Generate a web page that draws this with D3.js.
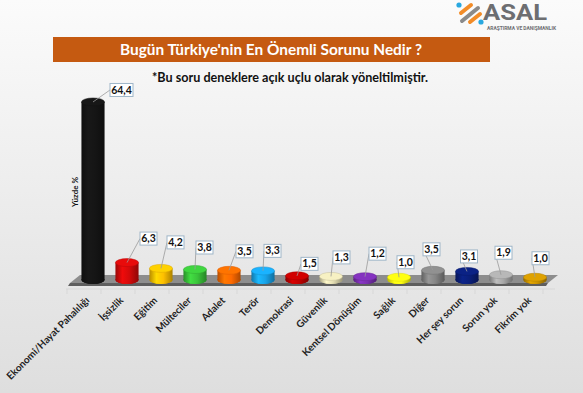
<!DOCTYPE html>
<html><head><meta charset="utf-8">
<script src="https://cdn.jsdelivr.net/npm/d3@7"></script>
<style>html,body{margin:0;padding:0;overflow:hidden;}svg{display:block;}</style>
</head><body>
<svg id="c" width="583" height="393"></svg>
<script>
const categories = ["Ekonomi/Hayat Pahalılığı","İşsizlik","Eğitim","Mülteciler","Adalet","Terör","Demokrasi","Güvenlik","Kentsel Dönüşüm","Sağlık","Diğer","Her şey sorun","Sorun yok","Fikrim yok"];
const values = [64.4, 6.3, 4.2, 3.8, 3.5, 3.3, 1.5, 1.3, 1.2, 1.0, 3.5, 3.1, 1.9, 1.0];
const valueLabels = ["64,4","6,3","4,2","3,8","3,5","3,3","1,5","1,3","1,2","1,0","3,5","3,1","1,9","1,0"];
const title = "Bugün Türkiye'nin En Önemli Sorunu Nedir ?";
const subtitle = "*Bu soru deneklere açık uçlu olarak yöneltilmiştir.";
const yTitle = "Yüzde %";

// styles / layout (not data)
const colors = ["#151515","#d40a0a","#ffc000","#3ac43a","#ff6a00","#18a4ea","#c00000","#e2dcb2","#7a2fb0","#ffff10","#858585","#0a1f7a","#a8a8a8","#cc9400"];
const labelDx = [28.5,21.5,14.5,9.5,15.5,9.5,12.5,10.5,12.5,6.5,-1.5,2,2.5,5.5];
const labelDy = [12,24,26,22,19,20,12,19,23,15,21,15,22,19];

const svg = d3.select("#c");
const defs = svg.append("defs");
const bg = defs.append("linearGradient").attr("id","bg").attr("x1",0).attr("y1",0).attr("x2",0).attr("y2",1);
bg.append("stop").attr("offset","0%").attr("stop-color","#fbfbfb");
bg.append("stop").attr("offset","100%").attr("stop-color","#dedede");
svg.append("rect").attr("width",583).attr("height",393).attr("fill","url(#bg)");

// logo
const logo = svg.append("g");
logo.append("line").attr("x1",461).attr("y1",13).attr("x2",471).attr("y2",5).attr("stroke","#f28c28").attr("stroke-width",4).attr("stroke-linecap","round");
logo.append("line").attr("x1",462).attr("y1",21).attr("x2",478).attr("y2",8).attr("stroke","#8a8a8a").attr("stroke-width",4).attr("stroke-linecap","round");
logo.append("line").attr("x1",470).attr("y1",22).attr("x2",480).attr("y2",14).attr("stroke","#f28c28").attr("stroke-width",4).attr("stroke-linecap","round");
logo.append("circle").attr("cx",459).attr("cy",5).attr("r",2.6).attr("fill","#29a8e0");
logo.append("circle").attr("cx",481).attr("cy",22).attr("r",2.6).attr("fill","#29a8e0");
logo.append("text").attr("x",483).attr("y",20).attr("font-family","Roboto, Arial, sans-serif").attr("font-weight","bold").attr("font-size",22).attr("fill","#6d6e71").attr("textLength",64).attr("lengthAdjust","spacingAndGlyphs").text("ASAL");
logo.append("text").attr("x",487).attr("y",30).attr("font-family","Roboto, Arial, sans-serif").attr("font-weight","bold").attr("font-size",4.5).attr("fill","#6d6e71").attr("textLength",69).attr("lengthAdjust","spacingAndGlyphs").text("ARAŞTIRMA VE DANIŞMANLIK");

// title bar
svg.append("rect").attr("x",53).attr("y",37).attr("width",437).attr("height",25).attr("fill","#c55a11");
svg.append("text").attr("x",271).attr("y",55).attr("text-anchor","middle").attr("font-family","Lato, 'Open Sans', sans-serif").attr("font-weight","bold").attr("font-size",15).attr("fill","#ffffff").attr("textLength",302).attr("lengthAdjust","spacingAndGlyphs").text(title);
svg.append("text").attr("x",290).attr("y",82).attr("text-anchor","middle").attr("font-family","Lato, 'Open Sans', sans-serif").attr("font-weight","bold").attr("font-size",12.5).attr("fill","#111").attr("textLength",276).attr("lengthAdjust","spacingAndGlyphs").text(subtitle);

// scales
const x = d3.scaleBand().domain(categories).range([76,552]).paddingInner(0.32).paddingOuter(0.16);
const y = d3.scaleLinear().domain([0,70]).range([280,86.5]);
const cx = d => x(d) + x.bandwidth()/2;
const rx = x.bandwidth()/2, ry = 4;

// axis baseline & ticks
const axisG = svg.append("g");
axisG.append("line").attr("x1",66).attr("x2",555).attr("y1",289).attr("y2",289).attr("stroke","#d4d4d4").attr("stroke-width",0.8);
axisG.selectAll("line.t").data(categories.concat(["_end"])).enter().append("line")
  .attr("x1",(d,i)=> 93 - 26 + i*x.step()).attr("x2",(d,i)=> 93 - 26 + i*x.step())
  .attr("y1",289).attr("y2",294).attr("stroke","#d4d4d4").attr("stroke-width",0.8);

// floor
const floorG = svg.append("g");
floorG.append("polygon").attr("points","70,283 548,283 546,286 68,286").attr("fill","#5e5e5e");
floorG.append("polygon").attr("points","80,275 558,275 548,283 70,283").attr("fill","#8d8d8d");

// gradients per bar
colors.forEach((c,i)=>{
  const g = defs.append("linearGradient").attr("id","bar"+i).attr("x1",0).attr("x2",1).attr("y1",0).attr("y2",0);
  const base = d3.color(c);
  g.append("stop").attr("offset","0%").attr("stop-color",base.darker(0.9));
  g.append("stop").attr("offset","30%").attr("stop-color",base.brighter(0.35));
  g.append("stop").attr("offset","60%").attr("stop-color",base);
  g.append("stop").attr("offset","100%").attr("stop-color",base.darker(1.1));
});

const bars = svg.append("g").selectAll("g").data(categories).enter().append("g");
bars.append("ellipse").attr("cx",d=>cx(d)).attr("cy",y(0)).attr("rx",rx).attr("ry",ry).attr("fill",(d,i)=>d3.color(colors[i]).darker(0.8));
bars.append("rect").attr("x",d=>x(d)).attr("width",x.bandwidth())
  .attr("y",(d,i)=>y(values[i])).attr("height",(d,i)=>y(0)-y(values[i]))
  .attr("fill",(d,i)=>"url(#bar"+i+")");
bars.append("ellipse").attr("cx",d=>cx(d)).attr("cy",y(0)).attr("rx",rx).attr("ry",ry)
  .attr("fill",(d,i)=>"url(#bar"+i+")");
bars.append("ellipse").attr("cx",d=>cx(d)).attr("cy",(d,i)=>y(values[i])).attr("rx",rx).attr("ry",ry)
  .attr("fill",(d,i)=>d3.color(colors[i]).brighter(0.25)).attr("stroke",(d,i)=>d3.color(colors[i]).darker(0.4)).attr("stroke-width",0.5);

// value labels
const lab = svg.append("g").selectAll("g").data(categories).enter().append("g");
const bw = i => valueLabels[i].length > 3 ? 23 : 17;
lab.append("polyline").attr("fill","none").attr("stroke","#9a9a9a").attr("stroke-width",0.8)
  .attr("points",(d,i)=>{
    const x0 = cx(d), y0 = y(values[i]);
    const bx = cx(d)+labelDx[i]-bw(i)/2, by = y(values[i])-labelDy[i];
    return [[x0,y0],[bx,by]].map(p=>p.join(",")).join(" ");
  });
lab.append("rect").attr("x",(d,i)=>cx(d)+labelDx[i]-bw(i)/2).attr("y",(d,i)=>y(values[i])-labelDy[i]-6.5)
  .attr("width",(d,i)=>bw(i)).attr("height",13).attr("fill","#ffffff").attr("stroke","#9fb6c8").attr("stroke-width",1);
lab.append("text").attr("x",(d,i)=>cx(d)+labelDx[i]).attr("y",(d,i)=>y(values[i])-labelDy[i]+3.6)
  .attr("text-anchor","middle").attr("font-family","Lato, 'Open Sans', sans-serif").attr("font-weight","bold").attr("font-size",10.5).attr("fill","#111")
  .text((d,i)=>valueLabels[i]);

// category labels
svg.append("g").selectAll("text").data(categories).enter().append("text")
  .attr("transform",d=>`translate(${cx(d)-3},${301}) rotate(-45)`)
  .attr("text-anchor","end").attr("font-family","Lato, 'Open Sans', sans-serif").attr("font-weight","bold").attr("font-size",10).attr("fill","#1e1e1e")
  .text(d=>d);

// y title
svg.append("text").attr("transform","translate(78,192) rotate(-90)").attr("text-anchor","middle")
  .attr("font-family","Lato, 'Open Sans', sans-serif").attr("font-weight","bold").attr("font-size",8).attr("fill","#111").text(yTitle);
</script>
</body></html>
